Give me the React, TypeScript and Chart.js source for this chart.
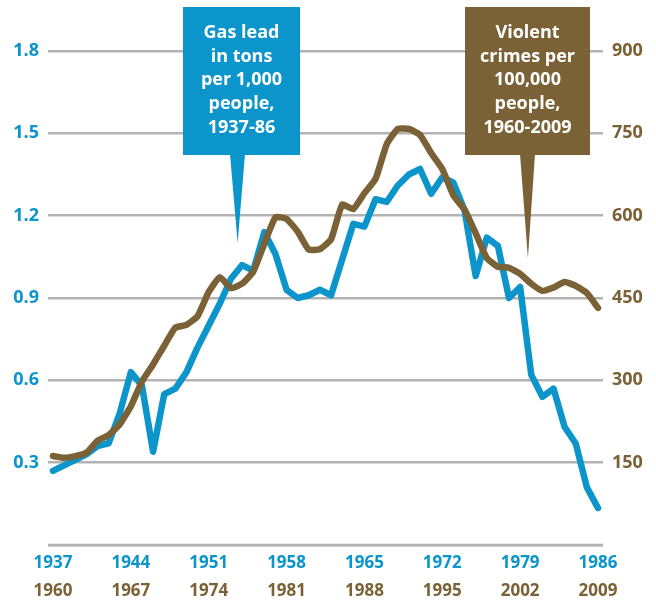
import React, { useEffect, useRef } from 'react';
import { Chart, registerables } from 'chart.js';

Chart.register(...registerables);

// Gas lead in tons per 1,000 people, 1937-1986
const LEAD_START_YEAR = 1937;
const LEAD_VALUES = [
  0.27, 0.29, 0.31, 0.33, 0.36, 0.37, 0.48, 0.63, 0.58, 0.34,
  0.55, 0.57, 0.63, 0.72, 0.8, 0.88, 0.97, 1.02, 1.0, 1.14,
  1.06, 0.93, 0.9, 0.91, 0.93, 0.91, 1.04, 1.17, 1.16, 1.26,
  1.25, 1.31, 1.35, 1.37, 1.28, 1.34, 1.32, 1.22, 0.98, 1.12,
  1.09, 0.9, 0.94, 0.62, 0.54, 0.57, 0.43, 0.37, 0.21, 0.135,
];

// Violent crimes per 100,000 people, 1960-2009
const CRIME_START_YEAR = 1960;
const CRIME_VALUES = [
  162, 159, 162, 168, 190, 200, 220, 253, 298, 329,
  363, 396, 401, 417, 461, 488, 468, 476, 498, 549,
  597, 594, 571, 538, 539, 557, 620, 612, 641, 667,
  730, 758, 758, 747, 714, 685, 637, 611, 568, 523,
  507, 505, 494, 476, 463, 469, 479, 472, 459, 432,
];

const LEAD_TICK_YEARS = [1937, 1944, 1951, 1958, 1965, 1972, 1979, 1986];
const CRIME_TICK_YEARS = [1960, 1967, 1974, 1981, 1988, 1995, 2002, 2009];
const LEAD_AXIS_TICKS = [0, 0.3, 0.6, 0.9, 1.2, 1.5, 1.8];
const CRIME_AXIS_TICKS = [0, 150, 300, 450, 600, 750, 900];

const LEAD_LABEL = ['Gas lead', 'in tons', 'per 1,000', 'people,', '1937-86'];
const CRIME_LABEL = ['Violent', 'crimes per', '100,000', 'people,', '1960-2009'];

const BLUE = '#0b95cb';
const BROWN = '#7b6236';
const GRID = '#b3b3b3';
const FONT = "'Open Sans', 'DejaVu Sans', sans-serif";

const baselinePlugin = {
  id: 'baseline',
  beforeDatasetsDraw(chart: any) {
    const ctx = chart.ctx;
    const { left, right } = chart.chartArea;
    const y = chart.scales.y.getPixelForValue(0);
    ctx.save();
    ctx.strokeStyle = GRID;
    ctx.lineWidth = 2.5;
    ctx.beginPath();
    ctx.moveTo(left, y);
    ctx.lineTo(right, y);
    ctx.stroke();
    ctx.restore();
  },
};

const calloutPlugin = {
  id: 'callouts',
  afterDatasetsDraw(chart: any) {
    const ctx = chart.ctx;
    const items = [
      {
        lines: LEAD_LABEL,
        color: BLUE,
        box: { l: 183, t: 7, r: 300, b: 155 },
        base: [230, 245],
        tip: { x: chart.scales.x.getPixelForValue(1953.6), y: chart.scales.y.getPixelForValue(1.1) },
      },
      {
        lines: CRIME_LABEL,
        color: BROWN,
        box: { l: 465, t: 7, r: 590, b: 155 },
        base: [520, 535],
        tip: { x: chart.scales.x2.getPixelForValue(2002.7), y: chart.scales.y2.getPixelForValue(523) },
      },
    ];
    ctx.save();
    for (const it of items) {
      ctx.fillStyle = it.color;
      ctx.fillRect(it.box.l, it.box.t, it.box.r - it.box.l, it.box.b - it.box.t);
      ctx.beginPath();
      ctx.moveTo(it.base[0], it.box.b - 1);
      ctx.lineTo(it.base[1], it.box.b - 1);
      ctx.lineTo(it.tip.x, it.tip.y);
      ctx.closePath();
      ctx.fill();
      ctx.fillStyle = '#ffffff';
      ctx.font = `700 18px ${FONT}`;
      ctx.textAlign = 'center';
      ctx.textBaseline = 'middle';
      const cx = (it.box.l + it.box.r) / 2;
      it.lines.forEach((line: string, i: number) => {
        ctx.fillText(line, cx, 33 + i * 23.6);
      });
    }
    ctx.restore();
  },
};

export default function App() {
  const ref = useRef<HTMLCanvasElement | null>(null);

  useEffect(() => {
    document.body.style.margin = '0';
    if (!ref.current) return;
    const chart = new Chart(ref.current, {
      type: 'line',
      data: {
        datasets: [
          {
            label: 'Violent crimes per 100,000 people',
            data: CRIME_VALUES.map((v, i) => ({ x: CRIME_START_YEAR + i, y: v })),
            xAxisID: 'x2',
            yAxisID: 'y2',
            borderColor: BROWN,
            borderWidth: 6.5,
            pointRadius: 0,
            tension: 0.15,
            borderJoinStyle: 'round',
            borderCapStyle: 'round',
            order: 0,
          },
          {
            label: 'Gas lead in tons per 1,000 people',
            data: LEAD_VALUES.map((v, i) => ({ x: LEAD_START_YEAR + i, y: v })),
            xAxisID: 'x',
            yAxisID: 'y',
            borderColor: BLUE,
            borderWidth: 6.5,
            pointRadius: 0,
            tension: 0,
            borderJoinStyle: 'round',
            borderCapStyle: 'round',
            order: 1,
          },
        ],
      },
      options: {
        animation: false,
        responsive: false,
        maintainAspectRatio: false,
        layout: { padding: { top: 51, bottom: 0, left: 0, right: 0 } },
        plugins: { legend: { display: false }, tooltip: { enabled: false } },
        scales: {
          x: {
            type: 'linear',
            position: 'bottom',
            weight: 0,
            min: LEAD_START_YEAR - 0.45,
            max: LEAD_START_YEAR + LEAD_VALUES.length - 1 + 0.45,
            afterBuildTicks: (s: any) => {
              s.ticks = LEAD_TICK_YEARS.map((v) => ({ value: v }));
            },
            afterFit: (s: any) => {
              s.height = 28;
            },
            grid: { display: false, drawTicks: false },
            border: { display: false },
            ticks: {
              color: BLUE,
              font: { family: FONT, size: 17, weight: '700' },
              padding: 8,
              maxRotation: 0,
              autoSkip: false,
              callback: (v: any) => String(v),
            },
          },
          x2: {
            type: 'linear',
            position: 'bottom',
            weight: 1,
            min: CRIME_START_YEAR - 0.45,
            max: CRIME_START_YEAR + CRIME_VALUES.length - 1 + 0.45,
            afterBuildTicks: (s: any) => {
              s.ticks = CRIME_TICK_YEARS.map((v) => ({ value: v }));
            },
            afterFit: (s: any) => {
              s.height = 30;
            },
            grid: { display: false, drawTicks: false },
            border: { display: false },
            ticks: {
              color: BROWN,
              font: { family: FONT, size: 17, weight: '700' },
              padding: 8,
              maxRotation: 0,
              autoSkip: false,
              callback: (v: any) => String(v),
            },
          },
          y: {
            type: 'linear',
            position: 'left',
            min: 0,
            max: 1.8,
            afterBuildTicks: (s: any) => {
              s.ticks = LEAD_AXIS_TICKS.map((v) => ({ value: v }));
            },
            afterFit: (s: any) => {
              s.width = 48;
            },
            grid: { color: GRID, lineWidth: 2.5, drawTicks: false },
            border: { display: false },
            ticks: {
              color: BLUE,
              font: { family: FONT, size: 18, weight: '700' },
              padding: 9,
              callback: (v: any) => (v === 0 ? '' : Number(v).toFixed(1)),
            },
          },
          y2: {
            type: 'linear',
            position: 'right',
            min: 0,
            max: 900,
            afterBuildTicks: (s: any) => {
              s.ticks = CRIME_AXIS_TICKS.map((v) => ({ value: v }));
            },
            afterFit: (s: any) => {
              s.width = 53;
            },
            grid: { display: false, drawTicks: false },
            border: { display: false },
            ticks: {
              color: BROWN,
              font: { family: FONT, size: 18, weight: '700' },
              padding: 9,
              callback: (v: any) => (v === 0 ? '' : String(v)),
            },
          },
        },
      },
      plugins: [baselinePlugin, calloutPlugin],
    } as any);
    return () => chart.destroy();
  }, []);

  return (
    <div style={{ width: 656, height: 603, background: '#ffffff' }}>
      <canvas ref={ref} width={656} height={603} style={{ display: 'block' }} />
    </div>
  );
}
